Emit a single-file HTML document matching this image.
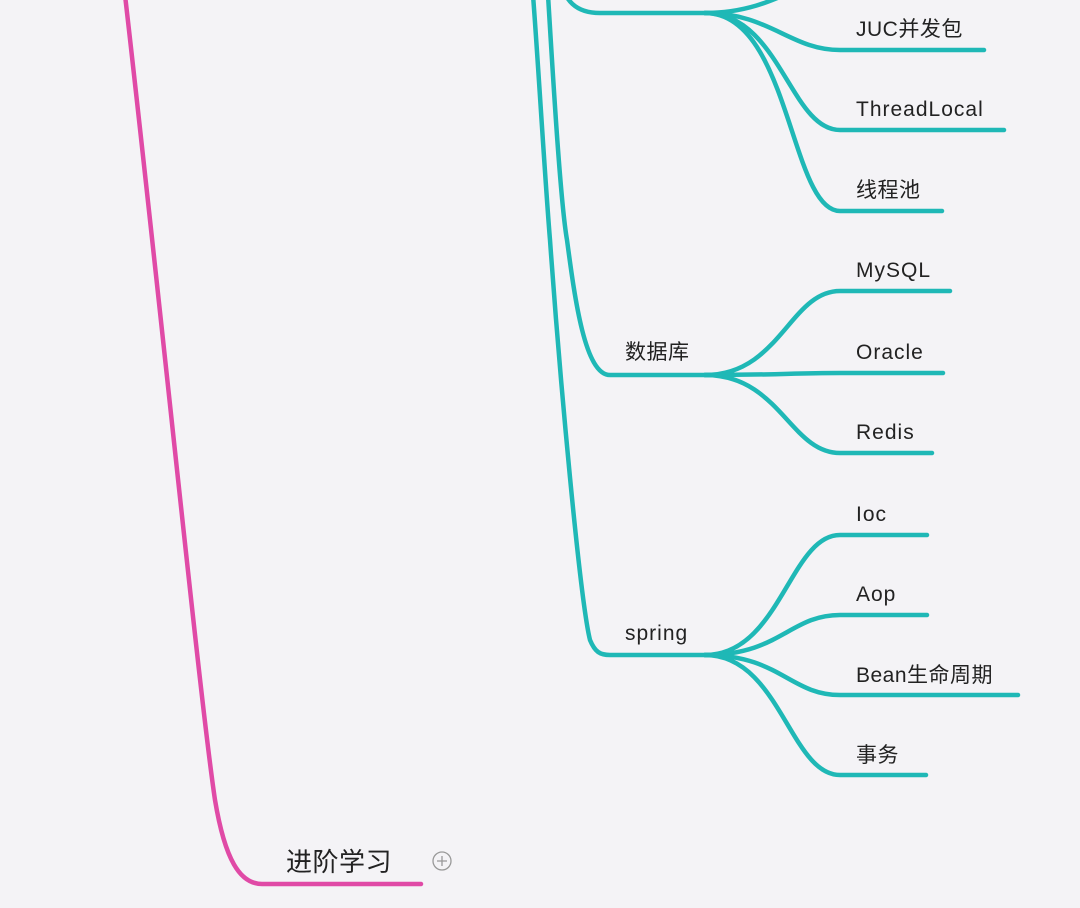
<!DOCTYPE html>
<html><head><meta charset="utf-8"><style>
html,body{margin:0;padding:0;background:#f4f3f6;}
svg{display:block}
text{font-family:"Liberation Sans","Noto Sans CJK SC",sans-serif;fill:#222;font-size:21px;letter-spacing:0.5px;}
.l{letter-spacing:1px;}
</style></head><body>
<svg width="1080" height="908" viewBox="0 0 1080 908" xmlns="http://www.w3.org/2000/svg">
<g fill="none" stroke-linecap="round">
<path d="M125 -5 C160 300 200 700 215 800 C225 860 240 884 262 884 L421 884" stroke="#e04aa6" stroke-width="4.5"/>
<g stroke="#1fb8b6" stroke-width="4.5">
<path d="M533 -5 C538 60 545 180 550 240 C560 380 580 600 590 640 C595 652 600 655 610 655 L720 655"/>
<path d="M548 -5 C552 60 560 200 567 240 C575 300 585 375 610 375 L720 375"/>
<path d="M560 -20 C565 0 575 13 600 13 L720 13"/>
<path d="M705 13 C760 13 790 -10 820 -20"/>
<path d="M705 13 C770 13 790 50 840 50 L984 50"/>
<path d="M705 13 C780 13 790 130 840 130 L1004 130"/>
<path d="M705 13 C790 13 790 211 840 211 L942 211"/>
<path d="M705 375 C780 375 790 291 840 291 L950 291"/>
<path d="M705 375 C780 375 790 373 840 373 L943 373"/>
<path d="M705 375 C780 375 790 453 840 453 L932 453"/>
<path d="M705 655 C780 655 790 535 840 535 L927 535"/>
<path d="M705 655 C780 655 790 615 840 615 L927 615"/>
<path d="M705 655 C780 655 790 695 840 695 L1018 695"/>
<path d="M705 655 C780 655 790 775 840 775 L926 775"/>
</g>
</g>
<text x="856" y="36">JUC并发包</text>
<text class="l" x="856" y="116">ThreadLocal</text>
<text x="856" y="197">线程池</text>
<text x="625" y="359">数据库</text>
<text class="l" x="856" y="277">MySQL</text>
<text class="l" x="856" y="359">Oracle</text>
<text class="l" x="856" y="439">Redis</text>
<text class="l" x="625" y="640">spring</text>
<text class="l" x="856" y="521">Ioc</text>
<text class="l" x="856" y="601">Aop</text>
<text x="856" y="682">Bean生命周期</text>
<text x="856" y="762">事务</text>
<text x="286" y="871" style="font-size:26px">进阶学习</text>
<circle cx="442" cy="861" r="9" fill="none" stroke="#999" stroke-width="1.3"/>
<path d="M437 861 H447 M442 856 V866" stroke="#999" stroke-width="1.3"/>
</svg>
</body></html>
